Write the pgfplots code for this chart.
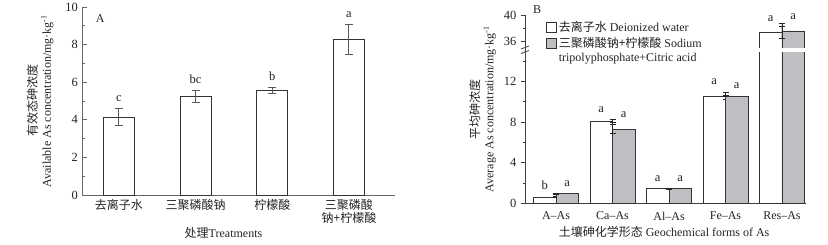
\documentclass[border=0pt]{standalone}
\usepackage{pgfplots}
\usepackage{pgfplotstable}
\pgfplotsset{compat=1.18}
\usepackage{fontspec}
\setmainfont{Liberation Serif}
\newfontfamily\cjk{Noto Sans CJK SC}
\definecolor{bargray}{RGB}{190,191,194}
\definecolor{txt}{RGB}{35,35,35}

\pgfplotstableread{
x y e lab
0 4.15 0.47 c
1 5.25 0.32 bc
2 5.57 0.16 b
3 8.28 0.80 a
}\dataA

\pgfplotstableread{
x y e lab
0 0.60 0.07 b
1 8.10 0.15 a
2 1.42 0.05 a
3 10.57 0.38 a
4 37.30 0.60 a
}\dataBw

\pgfplotstableread{
x y e lab
0 0.94 0.03 a
1 7.30 0.45 a
2 1.42 0.05 a
3 10.57 0.05 a
4 37.55 0.70 a
}\dataBg

\begin{document}
\fontsize{12}{14}\selectfont
\begin{tikzpicture}
\useasboundingbox (0pt,0pt) rectangle (828pt,245pt);
% ---------------- Panel A
\begin{axis}[
  at={(82pt,50pt)}, anchor=south west,
  scale only axis, width=313pt, height=188pt,
  xmin=-0.482, xmax=3.6, ymin=0, ymax=10,
  clip=false,
  axis lines=left, axis line style={black!60, line width=0.9pt, -},
  xtick={0,1,2,3},
  xticklabels={{\cjk 去离子水},{\cjk 三聚磷酸钠},{\cjk 柠檬酸},{\cjk 三聚磷酸\\\cjk 钠+柠檬酸}},
  xticklabel style={align=center, font=\fontsize{12}{13}\selectfont, text=txt},
  major x tick style={draw=none},
  ytick={0,2,4,6,8,10}, minor y tick num=1,
  tick align=inside,
  y tick style={black!60, line width=0.8pt},
  major tick length=5pt, minor tick length=3pt,
  yticklabel style={font=\fontsize{12.5}{14}\selectfont, text=txt},
  /pgf/number format/assume math mode=true,
  xlabel={{\cjk 处理}Treatments},
  xlabel style={at={(axis description cs:0.452,0)}, anchor=center, yshift=-38pt, text=txt, font=\fontsize{12}{14}\selectfont},
  ylabel={{\cjk 有效态砷浓度}\\Available As concentration/mg·kg\textsuperscript{-1}},
  ylabel style={at={(axis description cs:-0.134,0.5)}, anchor=center, align=center, text=txt, font=\fontsize{12}{14}\selectfont},
]
\addplot[ybar, bar width=31pt, bar shift=0pt, fill=white, draw=black!80, line width=0.9pt,
  error bars/.cd, y dir=both, y explicit,
  error bar style={black!65, line width=1pt},
  error mark=-,
  error mark options={rotate=90, black!65, line width=1pt, mark size=4pt}]
  table[x=x, y=y, y error=e] {\dataA};
\addplot[draw=none, mark=none, nodes near coords, point meta=explicit symbolic,
  every node near coord/.append style={font=\fontsize{12.5}{14}\selectfont, text=txt, anchor=south, yshift=2pt}]
  table[x=x, y expr=\thisrow{y}+\thisrow{e}, meta=lab] {\dataA};
\node[font=\fontsize{12}{14}\selectfont, text=txt] at (rel axis cs:0.058,0.941) {A};
\end{axis}
% ---------------- Panel B
\begin{axis}[
  at={(525pt,41.7pt)}, anchor=south west,
  scale only axis, width=281pt, height=188.3pt,
  xmin=-0.549, xmax=4.425, ymin=0, ymax=40,
  clip=false,
  y coord trafo/.code={\pgfmathparse{#1>25 ? 15.98+(#1-36)*0.643 : #1}},
  y coord inv trafo/.code={\pgfmathparse{#1>15.5 ? 36+(#1-15.98)/0.643 : #1}},
  axis lines=left, axis line style={black!75, line width=0.9pt, -},
  xtick={0,1,2,3,4},
  xticklabels={A–As,Ca–As,Al–As,Fe–As,Res–As},
  xticklabel style={font=\fontsize{12}{14}\selectfont, text=txt},
  major x tick style={draw=none},
  ytick={0,4,8,12,36,40}, yticklabels={0,4,8,12,36,40},
  minor ytick={2,6,10,14,38},
  tick align=outside,
  y tick style={black!75, line width=0.8pt},
  major tick length=4.5pt, minor tick length=2.5pt,
  yticklabel style={font=\fontsize{12.5}{14}\selectfont, text=txt},
  /pgf/number format/assume math mode=true,
  xlabel={{\cjk 土壤砷化学形态} Geochemical forms of As},
  xlabel style={at={(axis description cs:0.495,0)}, anchor=center, yshift=-29pt, text=txt, font=\fontsize{12}{14}\selectfont},
  ylabel={{\cjk 平均砷浓度}\\Average As concentration/mg·kg\textsuperscript{-1}},
  ylabel style={at={(axis description cs:-0.151,0.5)}, anchor=center, align=center, text=txt, font=\fontsize{12}{14}\selectfont},
  legend style={at={(axis description cs:0.065,0.985)}, anchor=north west, draw=none, fill=none,
    font=\fontsize{12}{14}\selectfont, text=txt, row sep=1pt, nodes={inner sep=1.5pt}},
  legend cell align=left,
  legend image code/.code={\draw[#1, line width=0.8pt] (0pt,-5pt) rectangle (10pt,5pt);},
]
\addplot[ybar, bar width=22.5pt, bar shift=-11.25pt, fill=white, draw=black!80, line width=0.9pt,
  error bars/.cd, y dir=both, y explicit,
  error bar style={black!85, line width=0.9pt},
  error mark=-,
  error mark options={rotate=90, black!85, line width=0.9pt, mark size=3pt}]
  table[x=x, y=y, y error=e] {\dataBw};
\addlegendentry{{\cjk 去离子水} Deionized water}
\addplot[ybar, bar width=22.5pt, bar shift=11.25pt, fill=bargray, draw=black!80, line width=0.9pt,
  error bars/.cd, y dir=both, y explicit,
  error bar style={black!85, line width=0.9pt},
  error mark=-,
  error mark options={rotate=90, black!85, line width=0.9pt, mark size=3pt}]
  table[x=x, y=y, y error=e] {\dataBg};
\addlegendentry{{\cjk 三聚磷酸钠+柠檬酸} Sodium}
\addlegendimage{empty legend}
\addlegendentry{tripolyphosphate+Citric acid}
\addplot[forget plot, draw=none, mark=none, nodes near coords, point meta=explicit symbolic,
  every node near coord/.append style={font=\fontsize{12.5}{14}\selectfont, text=txt, anchor=south, yshift=3pt, xshift=-11.25pt}]
  table[x=x, y expr=\thisrow{y}+\thisrow{e}, meta=lab] {\dataBw};
\addplot[forget plot, draw=none, mark=none, nodes near coords, point meta=explicit symbolic,
  every node near coord/.append style={font=\fontsize{12.5}{14}\selectfont, text=txt, anchor=south, yshift=3pt, xshift=11.25pt}]
  table[x=x, y expr=\thisrow{y}+\thisrow{e}, meta=lab] {\dataBg};
\fill[white] (axis cs:3.45,14.93) rectangle (axis cs:4.45,15.27);
\draw[black!75, line width=0.8pt] (axis cs:-0.549,15.35) ++(-4pt,-1.5pt) -- ++(8pt,3pt);
\draw[black!75, line width=0.8pt] (axis cs:-0.549,14.90) ++(-4pt,-1.5pt) -- ++(8pt,3pt);
\node[font=\fontsize{12}{14}\selectfont, text=txt] at (rel axis cs:0.043,1.027) {B};
\end{axis}
\end{tikzpicture}
\end{document}
